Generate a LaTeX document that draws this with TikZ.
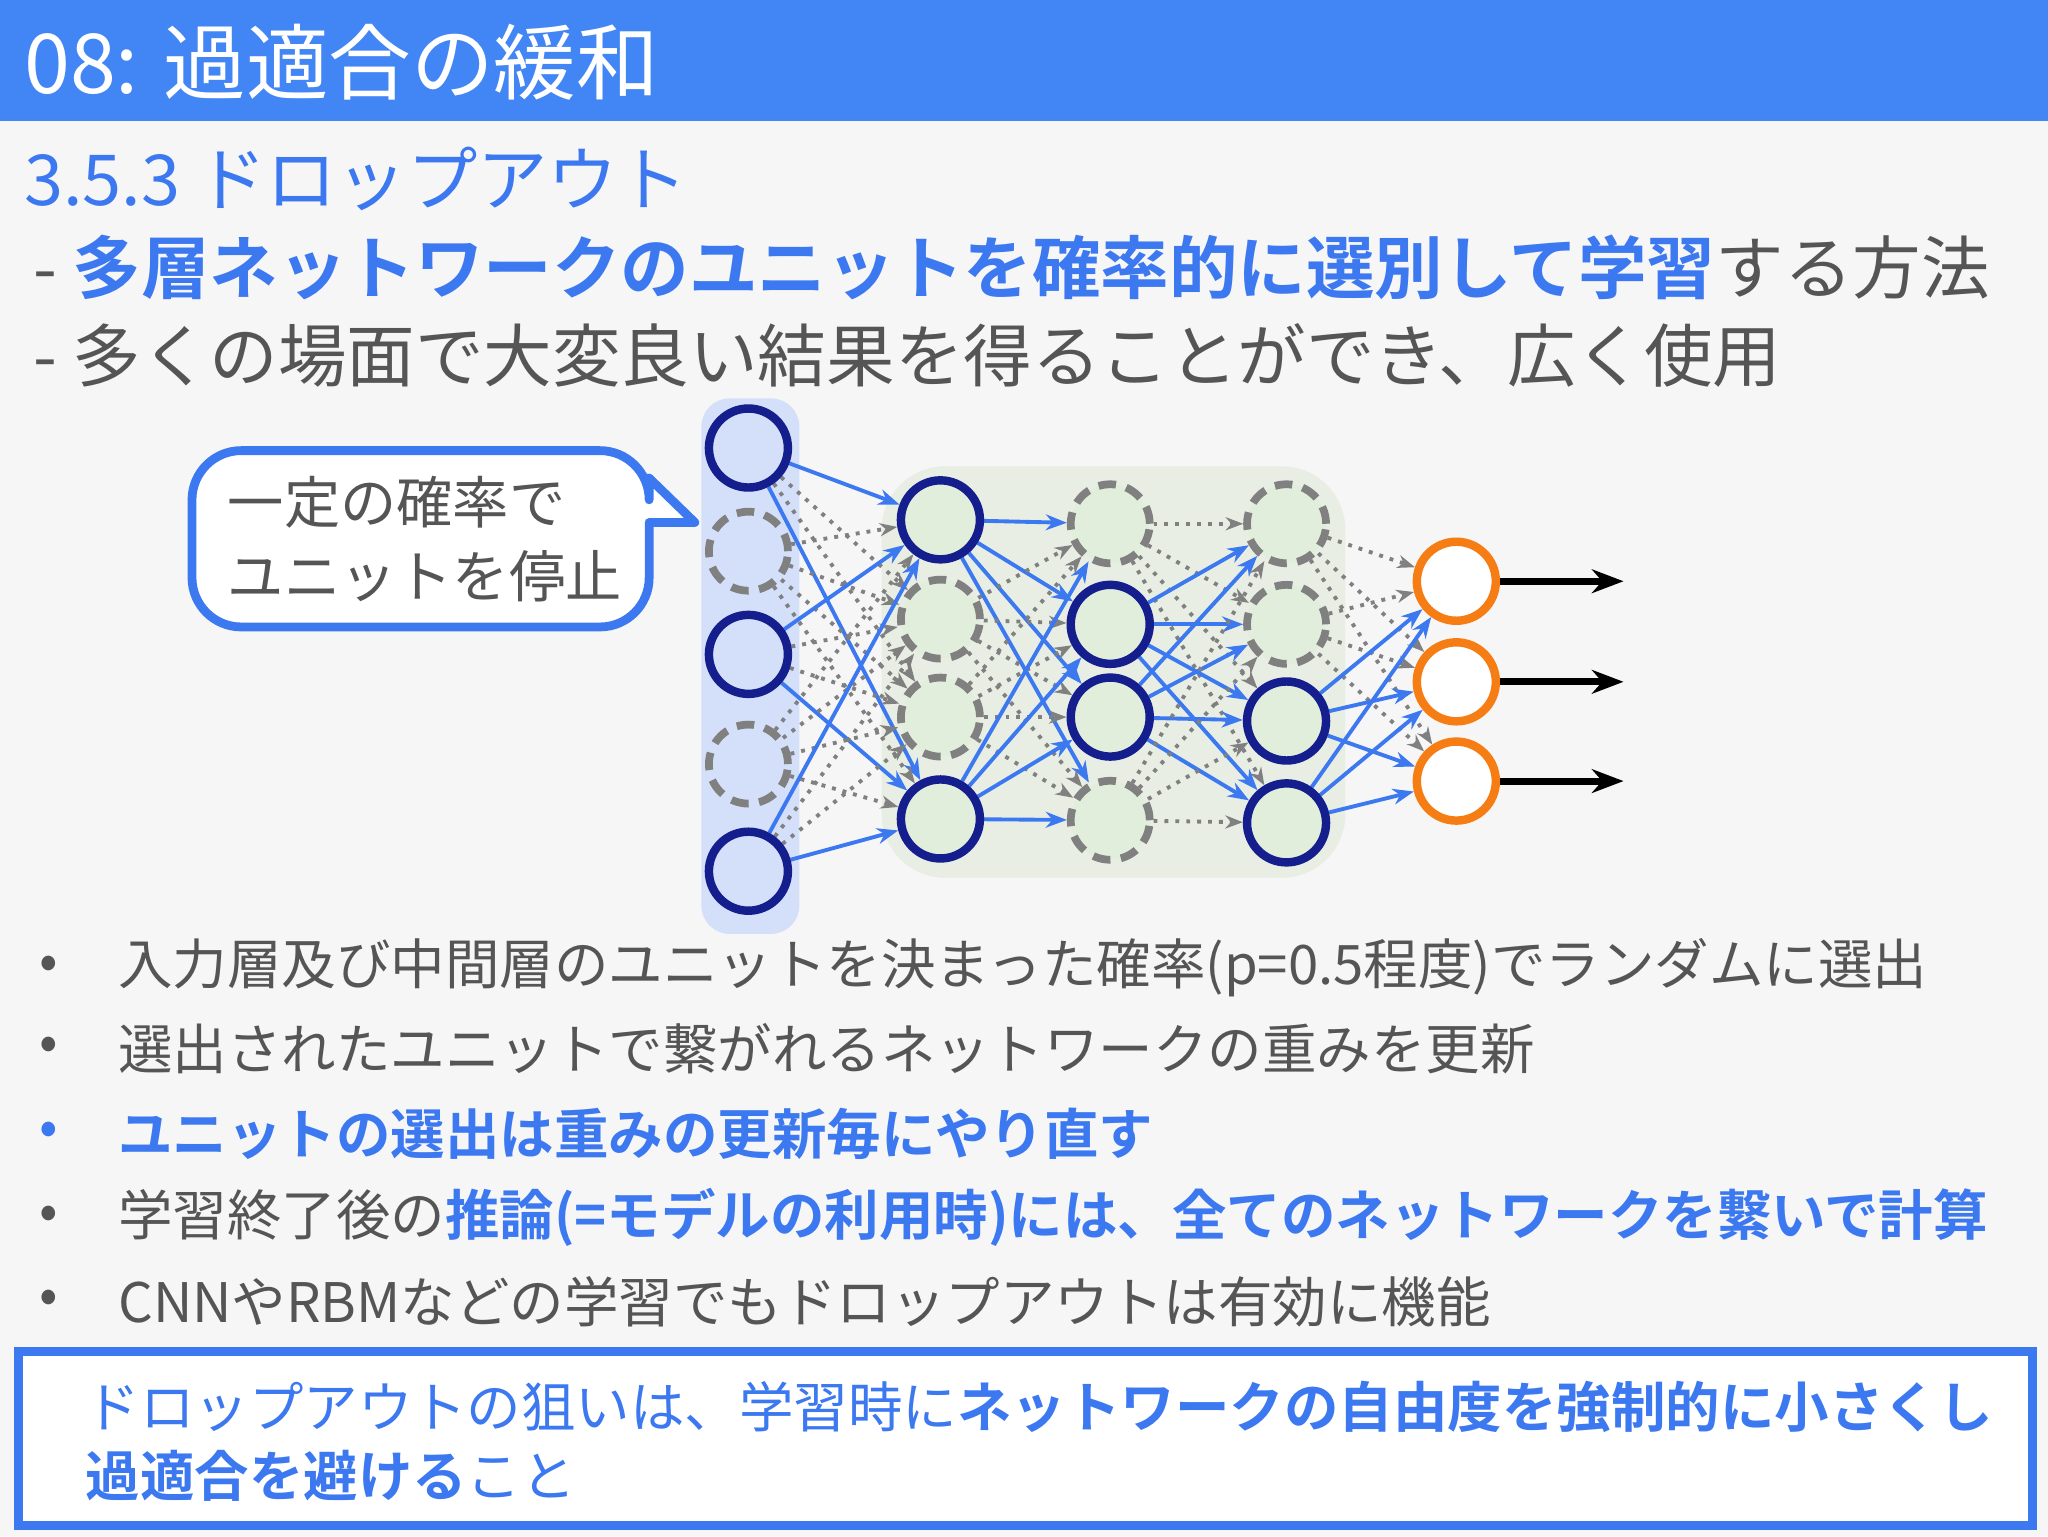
\documentclass[tikz,border=0pt]{standalone}
\usepackage{fontspec}
\setmainfont{Noto Sans CJK JP}[BoldFont={Noto Sans CJK JP Bold}]
\usetikzlibrary{arrows.meta}
\pgfdeclarelayer{bg}
\pgfdeclarelayer{bgedge}
\pgfsetlayers{bg,bgedge,main}
\definecolor{hdr}{RGB}{66,133,244}
\definecolor{bl}{RGB}{60,120,240}
\definecolor{tx}{RGB}{85,85,85}
\definecolor{nav}{RGB}{20,30,140}
\definecolor{org}{RGB}{245,125,20}
\definecolor{inbg}{RGB}{212,224,250}
\definecolor{hbg}{RGB}{226,238,220}
\tikzset{
 solidu/.style={circle,draw=nav,line width=2.4pt,fill=hbg,minimum size=7.9mm},
 dashu/.style={circle,draw=gray,dash pattern=on 5pt off 3pt,line width=2.2pt,fill=hbg,minimum size=7.9mm},
 outu/.style={circle,draw=org,line width=2.4pt,fill=white,minimum size=7.9mm},
 be/.style={draw=bl,line width=1.1pt,-{Stealth[length=6pt]}},
 ge/.style={draw=gray,dotted,line width=1.1pt,-{Stealth[length=5pt]}},
 txt/.style={anchor=west,inner sep=0pt,text=tx},
}
\begin{document}
\begin{tikzpicture}[x=0.1306mm,y=-0.1306mm]
\useasboundingbox (0,0) rectangle (1568,1176);
\begin{pgfonlayer}{bg}
\fill[gray!7] (0,0) rectangle (1568,1176);
\fill[inbg,rounded corners=8pt] (537,305) rectangle (612,715);
\fill[hbg!90!gray!60,rounded corners=18pt] (675,357) rectangle (1030,672);
\end{pgfonlayer}
\fill[hdr] (0,0) rectangle (1568,93);
\node[txt,text=white,font=\fontsize{23.5}{26}\selectfont] (h) at (18,48) {08: 過適合の緩和};
\node[txt,text=bl,font=\fontsize{20}{22}\selectfont] (t) at (18,137) {3.5.3 ドロップアウト};
\node[txt,font=\fontsize{19.5}{22}\selectfont] (l1) at (25,205) {- \textcolor{bl}{\bfseries 多層ネットワークのユニットを確率的に選別して学習}する方法};
\node[txt,font=\fontsize{19.5}{22}\selectfont] (l2) at (25,272) {- 多くの場面で大変良い結果を得ることができ、広く使用};
% nodes
\foreach \y/\s [count=\i] in {343/1,422/0,501/1,585/0,667/1}{
 \ifnum\s=1 \node[solidu,fill=inbg] (A\i) at (573,\y) {};
 \else \node[dashu,fill=inbg] (A\i) at (573,\y) {}; \fi}
\foreach \y/\s [count=\i] in {398/1,474/0,549/0,627/1}{
 \ifnum\s=1 \node[solidu] (B\i) at (720,\y) {};
 \else \node[dashu] (B\i) at (720,\y) {}; \fi}
\foreach \y/\s [count=\i] in {401/0,478/1,549/1,628/0}{
 \ifnum\s=1 \node[solidu] (C\i) at (850,\y) {};
 \else \node[dashu] (C\i) at (850,\y) {}; \fi}
\foreach \y/\s [count=\i] in {401/0,478/0,552/1,630/1}{
 \ifnum\s=1 \node[solidu] (D\i) at (985,\y) {};
 \else \node[dashu] (D\i) at (985,\y) {}; \fi}
\foreach \y [count=\i] in {445,522,598}{
 \node[outu] (E\i) at (1115,\y) {};
 \coordinate (F\i) at (1243,\y);
 \draw[line width=2pt,-{Stealth[length=9pt]}] (E\i) -- (F\i);}
% edges
\begin{pgfonlayer}{bgedge}
\foreach \i/\a in {1/1,2/0,3/1,4/0,5/1}{\foreach \j/\b in {1/1,2/0,3/0,4/1}{
 \ifnum\a\b=11 \draw[be] (A\i) -- (B\j); \else \draw[ge] (A\i) -- (B\j); \fi}}
\foreach \i/\a in {1/1,2/0,3/0,4/1}{\foreach \j/\b in {1/0,2/1,3/1,4/0}{
 \ifnum\a=1 \draw[be] (B\i) -- (C\j); \else \draw[ge] (B\i) -- (C\j); \fi}}
\foreach \i/\a in {1/0,2/1,3/1,4/0}{\foreach \j/\b in {1/0,2/0,3/1,4/1}{
 \ifnum\a=1 \draw[be] (C\i) -- (D\j); \else \draw[ge] (C\i) -- (D\j); \fi}}
\foreach \i/\a in {1/0,2/0,3/1,4/1}{\foreach \j in {1,2,3}{
 \ifnum\a=1 \draw[be] (D\i) -- (E\j); \else \draw[ge] (D\i) -- (E\j); \fi}}
\end{pgfonlayer}
% bubble
\draw[bl,line width=2.5pt,fill=white,line join=round] (497,400) [rounded corners=14pt] -- (497,480) -- (147,480) -- (147,345) -- (497,345) [sharp corners] -- (497,366) -- (532,400) -- cycle;
\node[align=left,text=tx,font=\fontsize{16}{21}\selectfont,anchor=west] (bub) at (165,413) {一定の確率で\\ユニットを停止};
% bullets
\foreach \y/\t [count=\k] in {741/{入力層及び中間層のユニットを決まった確率(p=0.5程度)でランダムに選出},
 803/{選出されたユニットで繋がれるネットワークの重みを更新},
 868/{\textcolor{bl}{\bfseries ユニットの選出は重みの更新毎にやり直す}},
 932/{学習終了後の\textcolor{bl}{\bfseries 推論(=モデルの利用時)には、全てのネットワークを繋いで計算}},
 997/{CNNやRBMなどの学習でもドロップアウトは有効に機能}}{
 \node[txt,font=\fontsize{15.5}{18}\selectfont] (b\k) at (90,\y) {\t};
 \node[txt,font=\fontsize{15.5}{18}\selectfont] (d\k) at (30,\y) {\ifnum\k=3 \textcolor{bl}{•}\else •\fi};}
% bottom box
\draw[bl,line width=2.5pt,fill=white] (14,1035) rectangle (1556,1168);
\node[txt,text=bl,font=\fontsize{15.5}{18}\selectfont] (z1) at (65,1077) {ドロップアウトの狙いは、学習時に{\bfseries ネットワークの自由度を強制的に小さくし}};
\node[txt,text=bl,font=\fontsize{15.5}{18}\selectfont] (z2) at (65,1130) {{\bfseries 過適合を避ける}こと};
\end{tikzpicture}
\end{document}
